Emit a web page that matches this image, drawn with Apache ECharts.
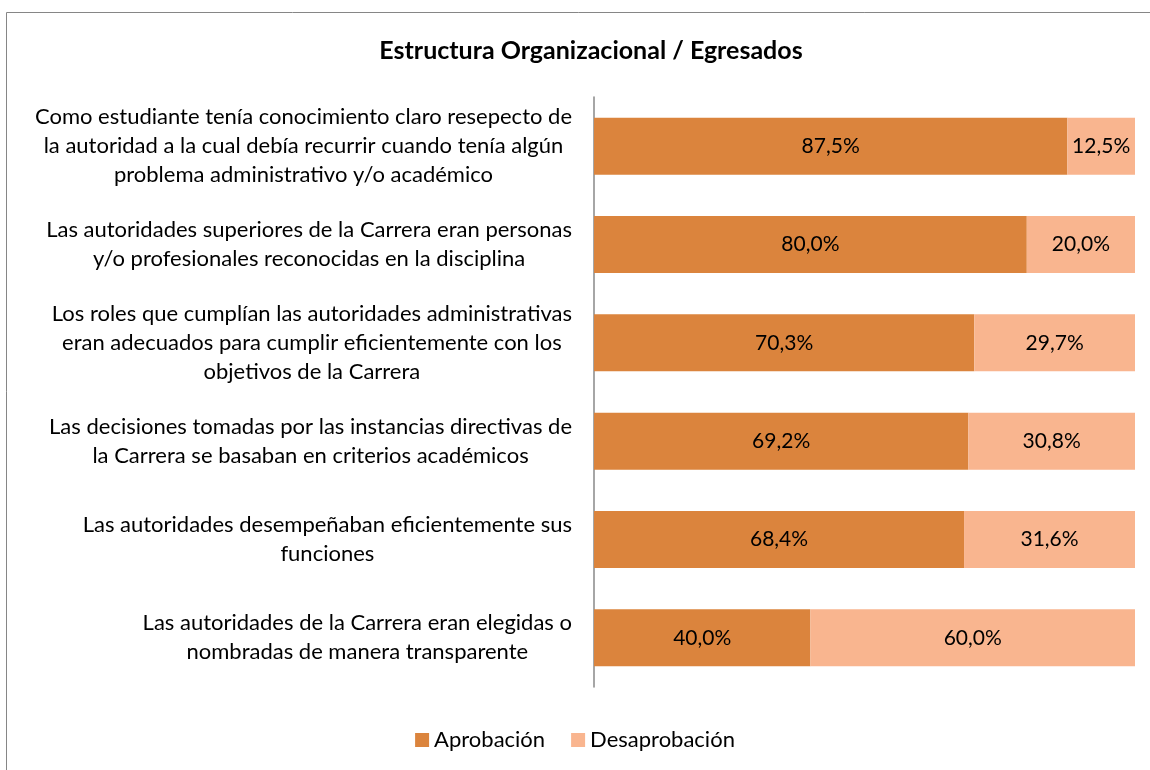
<!DOCTYPE html>
<html>
<head>
<meta charset="utf-8">
<script src="https://cdn.jsdelivr.net/npm/echarts@6/dist/echarts.min.js"></script>
<style>
  html, body { margin: 0; padding: 0; background: #fff; }
  #chart { width: 1150px; height: 770px; }
</style>
</head>
<body>
<div id="chart"></div>
<script>
// categorias (de arriba hacia abajo)
var categorias = [
  'Como estudiante tenía conocimiento claro resepecto de\nla autoridad a la cual debía recurrir cuando tenía algún\nproblema administrativo y/o académico',
  'Las autoridades superiores de la Carrera eran personas\ny/o profesionales reconocidas en la disciplina',
  'Los roles que cumplían las autoridades administrativas\neran adecuados para cumplir eficientemente con los\nobjetivos de la Carrera',
  'Las decisiones tomadas por las instancias directivas de\nla Carrera se basaban en criterios académicos',
  'Las autoridades desempeñaban eficientemente sus\nfunciones',
  'Las autoridades de la Carrera eran elegidas o\nnombradas de manera transparente'
];
var aprobacion = [87.5, 80.0, 70.3, 69.2, 68.4, 40.0];
var desaprobacion = [12.5, 20.0, 29.7, 30.8, 31.6, 60.0];

var fuente = 'Lato';

function pct(v) {
  return v.toFixed(1).replace('.', ',') + '%';
}

var myChart = echarts.init(document.getElementById('chart'));
myChart.setOption({
  animation: false,
  textStyle: { fontFamily: fuente },
  title: {
    text: 'Estructura Organizacional / Egresados',
    left: 586,
    top: 33,
    textAlign: 'center',
    textStyle: { fontSize: 25, fontWeight: 'bold', color: '#000', fontFamily: fuente }
  },
  graphic: [{
    type: 'rect',
    shape: { x: 6.5, y: 12.5, width: 1200, height: 800 },
    style: { fill: 'none', stroke: '#868686', lineWidth: 1 },
    silent: true
  }],
  legend: {
    top: 724,
    left: 'center',
    itemWidth: 14,
    itemHeight: 14,
    itemGap: 26,
    icon: 'rect',
    textStyle: { fontSize: 22, color: '#000', fontFamily: fuente },
    data: ['Aprobación', 'Desaprobación']
  },
  grid: { left: 594, right: 15, top: 97, height: 590 },
  xAxis: {
    type: 'value',
    min: 0,
    max: 100,
    show: false
  },
  yAxis: {
    type: 'category',
    inverse: true,
    data: categorias,
    axisLine: { show: true, lineStyle: { color: '#888', width: 1.5 } },
    axisTick: { show: false },
    axisLabel: {
      margin: 22,
      fontSize: 22,
      lineHeight: 29,
      color: '#000',
      formatter: function (v) {
        return v.split('\n').map(function (l) { return '{c|' + l + '}'; }).join('\n');
      },
      rich: {
        c: { align: 'center', fontSize: 22, lineHeight: 29, color: '#000', fontFamily: fuente }
      }
    }
  },
  series: [
    {
      name: 'Aprobación',
      type: 'bar',
      stack: 'total',
      barWidth: '58%',
      data: aprobacion,
      itemStyle: { color: '#DB843D' },
      label: {
        show: true,
        position: 'inside',
        color: '#000',
        fontSize: 21,
        fontFamily: fuente,
        formatter: function (p) { return pct(p.value); }
      }
    },
    {
      name: 'Desaprobación',
      type: 'bar',
      stack: 'total',
      data: desaprobacion,
      itemStyle: { color: '#F9B58F' },
      label: {
        show: true,
        position: 'inside',
        color: '#000',
        fontSize: 21,
        fontFamily: fuente,
        formatter: function (p) { return pct(p.value); }
      }
    }
  ]
});
</script>
</body>
</html>
